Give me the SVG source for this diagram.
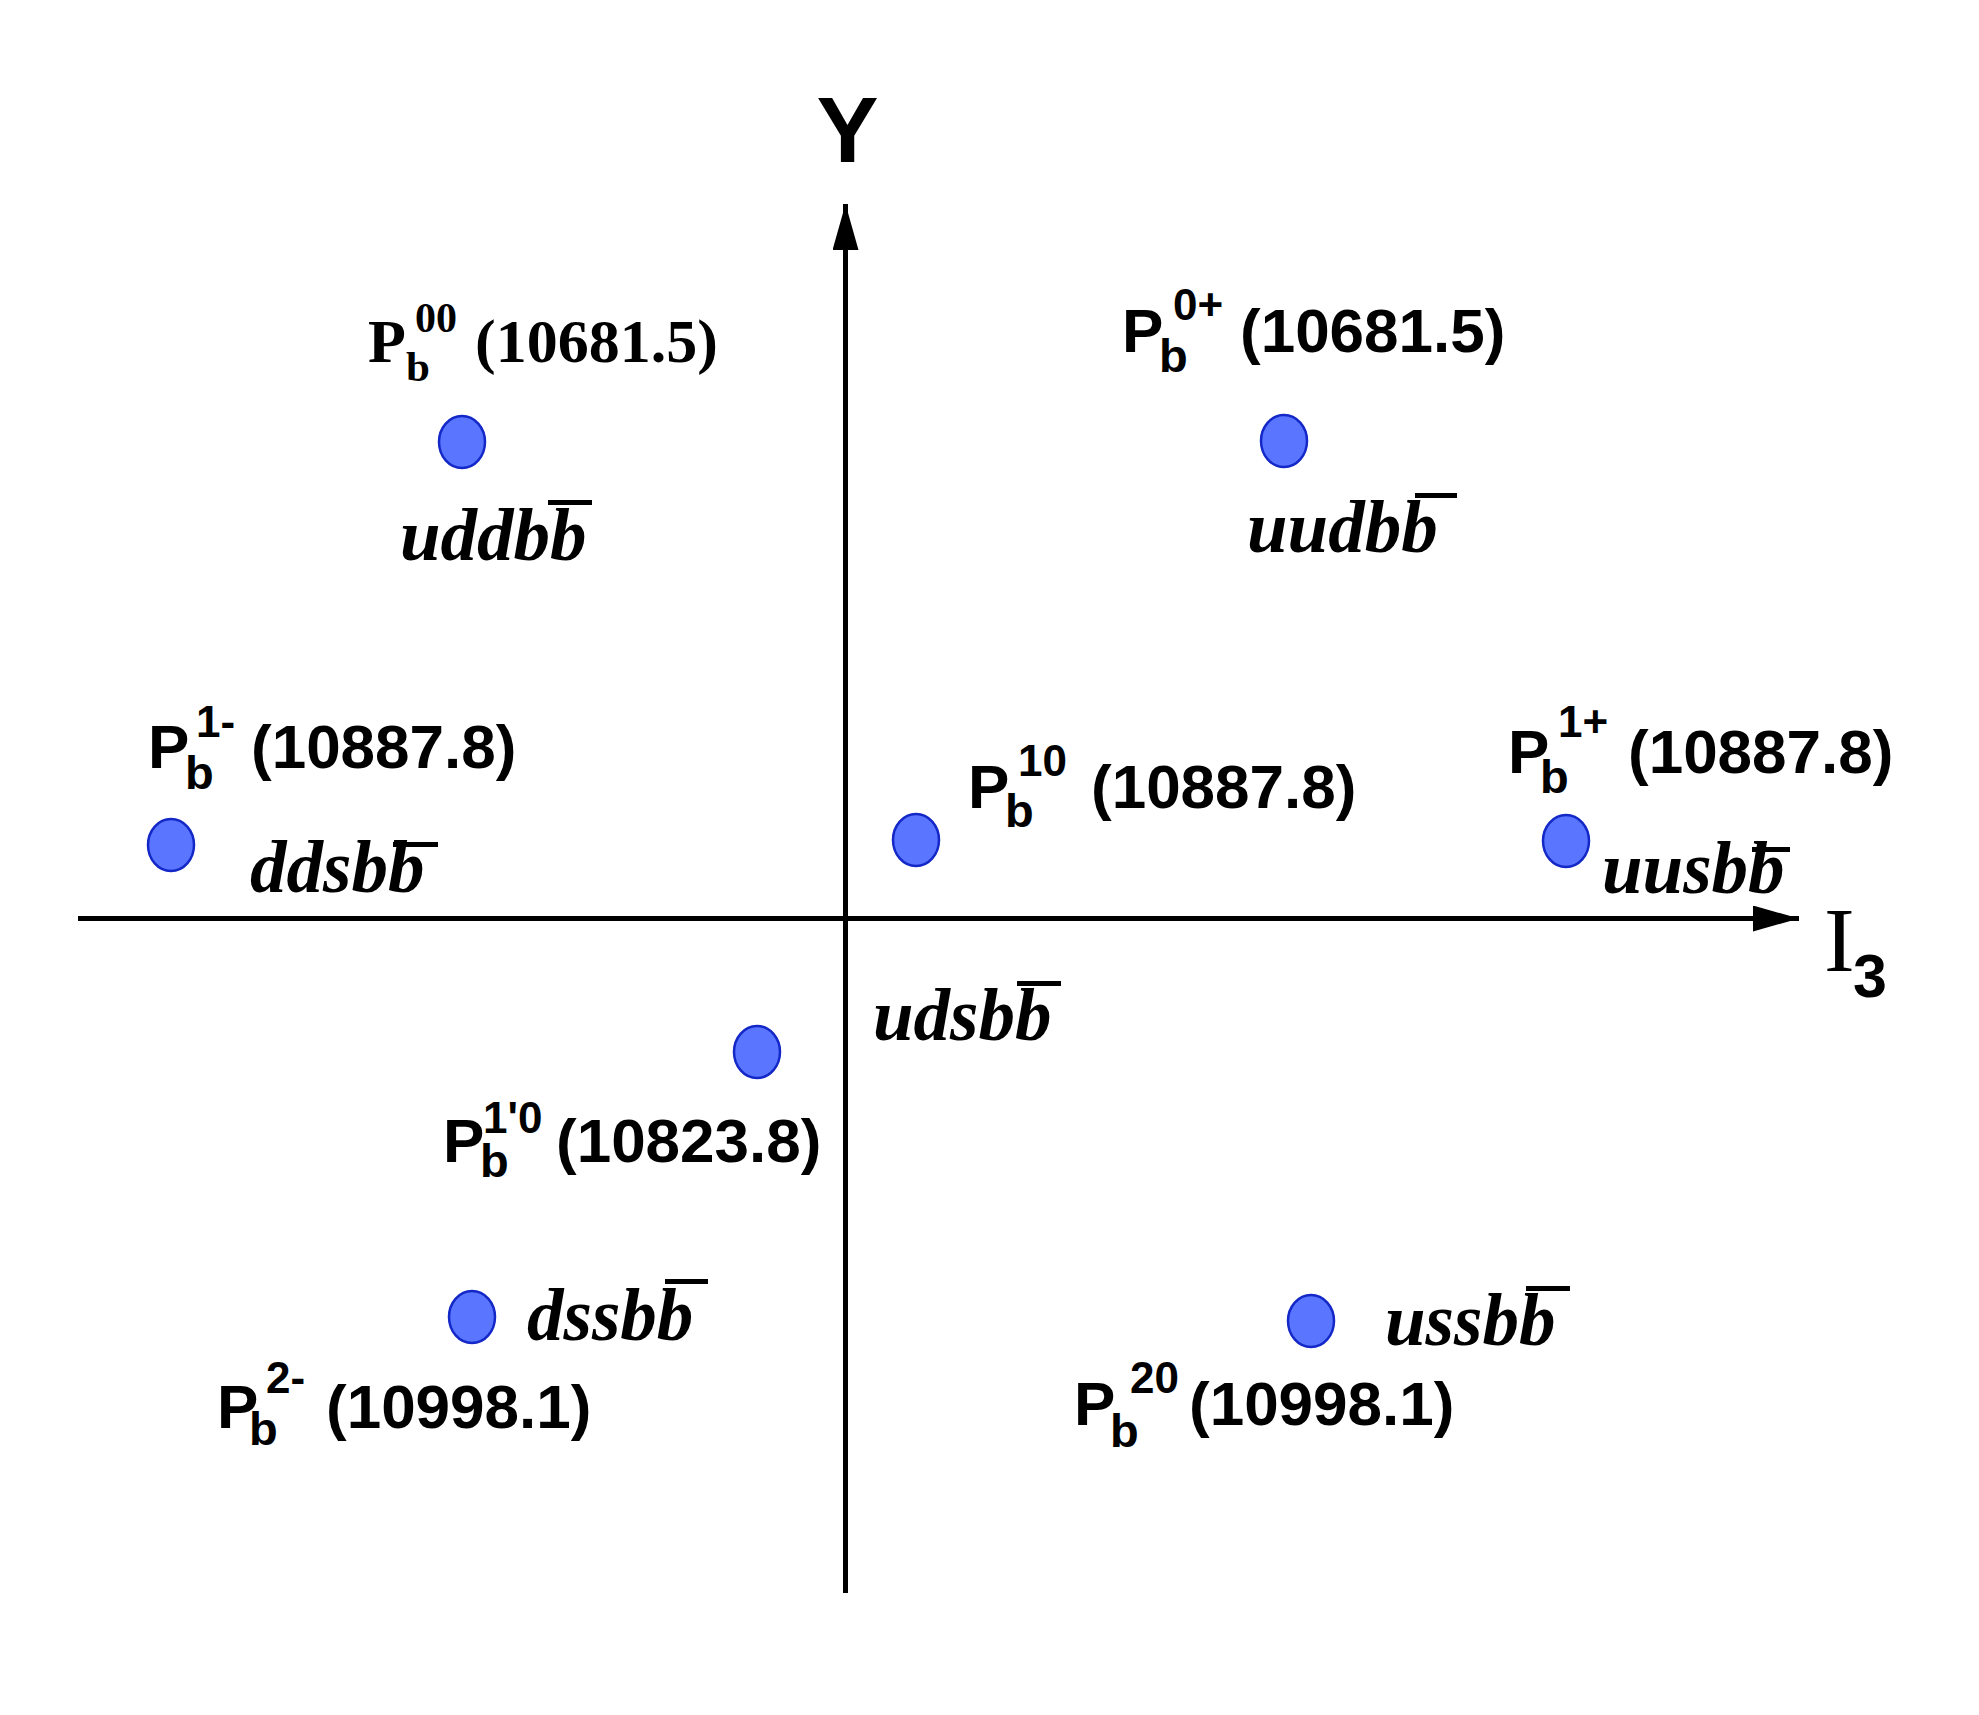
<svg xmlns="http://www.w3.org/2000/svg" width="1979" height="1715" viewBox="0 0 1979 1715">
<style>
.dot{fill:#5a75ff;stroke:#1428c8;stroke-width:2.5}
.ax{stroke:#000;stroke-width:5;fill:none}
.sb{font-family:"Liberation Sans",Arial,sans-serif;font-weight:bold;fill:#000}
.tb{font-family:"Liberation Serif","Times New Roman",serif;font-weight:bold;fill:#000}
.q{font-family:"Liberation Serif","Times New Roman",serif;font-weight:bold;font-style:italic;font-size:73px;fill:#000}
.big{font-size:62px}
.sup{font-size:44px}
.sub{font-size:47px}
.bar{fill:#000}
</style>
<defs>
<marker id="ah" markerUnits="userSpaceOnUse" markerWidth="48" markerHeight="28" refX="46" refY="13" orient="auto">
<path d="M0,0 L46,13 L0,26 Z" fill="#000"/>
</marker>
</defs>
<rect width="1979" height="1715" fill="#fff"/>
<g id="connectors">
<line class="ax" x1="845.5" y1="1593" x2="845.5" y2="204" marker-end="url(#ah)"/>
<line class="ax" x1="78" y1="918.5" x2="1799" y2="918.5" marker-end="url(#ah)"/>
</g>
<g id="axis-labels">
<text class="sb" x="847.5" y="162" font-size="93" text-anchor="middle">Y</text>
<text x="1824" y="971" font-family="Liberation Serif, Times New Roman, serif" font-size="92" fill="#000">I</text>
<text class="sb" x="1853" y="997" font-size="61">3</text>
</g>
<g id="node-uddbb">
<ellipse class="dot" cx="462" cy="442" rx="23" ry="26"/>
<text class="tb big" x="368" y="362">P</text>
<text class="tb" x="406" y="381" font-size="43">b</text>
<text class="tb" x="415" y="332" font-size="42">00</text>
<text class="tb big" x="475" y="362">(10681.5)</text>
<text class="q" x="400" y="560">uddbb</text>
<rect class="bar" x="548" y="500" width="44" height="5"/>
</g>
<g id="node-uudbb">
<ellipse class="dot" cx="1284" cy="441" rx="23" ry="26"/>
<text class="sb big" x="1122" y="352">P</text>
<text class="sb sub" x="1159" y="372">b</text>
<text class="sb sup" x="1173" y="320">0+</text>
<text class="sb big" x="1240" y="352">(10681.5)</text>
<text class="q" x="1247" y="552">uudbb</text>
<rect class="bar" x="1415" y="493" width="42" height="5"/>
</g>
<g id="node-ddsbb">
<ellipse class="dot" cx="171" cy="845" rx="23" ry="26"/>
<text class="sb big" x="148" y="768">P</text>
<text class="sb sub" x="185" y="789">b</text>
<text class="sb sup" x="196" y="737">1-</text>
<text class="sb big" x="251" y="768">(10887.8)</text>
<text class="q" x="250" y="892">ddsbb</text>
<rect class="bar" x="393" y="842" width="45" height="5"/>
</g>
<g id="node-udsbb">
<ellipse class="dot" cx="916" cy="840" rx="23" ry="26"/>
<text class="sb big" x="968" y="808">P</text>
<text class="sb sub" x="1005" y="827">b</text>
<text class="sb sup" x="1018" y="776">10</text>
<text class="sb big" x="1091" y="808">(10887.8)</text>
<text class="q" x="873" y="1040">udsbb</text>
<rect class="bar" x="1017" y="981" width="44" height="5"/>
</g>
<g id="node-uusbb">
<ellipse class="dot" cx="1566" cy="841" rx="23" ry="26"/>
<text class="sb big" x="1508" y="773">P</text>
<text class="sb sub" x="1540" y="793">b</text>
<text class="sb sup" x="1558" y="737">1+</text>
<text class="sb big" x="1628" y="773">(10887.8)</text>
<text class="q" x="1602" y="893">uusbb</text>
<rect class="bar" x="1752" y="847" width="38" height="5"/>
</g>
<g id="node-udsbb-prime">
<ellipse class="dot" cx="757" cy="1052" rx="23" ry="26"/>
<text class="sb big" x="443" y="1162">P</text>
<text class="sb sub" x="480" y="1177">b</text>
<text class="sb sup" x="483" y="1133">1'0</text>
<text class="sb big" x="556" y="1162">(10823.8)</text>
</g>
<g id="node-dssbb">
<ellipse class="dot" cx="472" cy="1317" rx="23" ry="26"/>
<text class="sb big" x="217" y="1428">P</text>
<text class="sb sub" x="249" y="1445">b</text>
<text class="sb sup" x="266" y="1393">2-</text>
<text class="sb big" x="326" y="1428">(10998.1)</text>
<text class="q" x="527" y="1340">dssbb</text>
<rect class="bar" x="665" y="1279" width="43" height="5"/>
</g>
<g id="node-ussbb">
<ellipse class="dot" cx="1311" cy="1321" rx="23" ry="26"/>
<text class="sb big" x="1074" y="1425">P</text>
<text class="sb sub" x="1110" y="1447">b</text>
<text class="sb sup" x="1130" y="1393">20</text>
<text class="sb big" x="1189" y="1425">(10998.1)</text>
<text class="q" x="1385" y="1345">ussbb</text>
<rect class="bar" x="1526" y="1286" width="44" height="5"/>
</g>
</svg>
